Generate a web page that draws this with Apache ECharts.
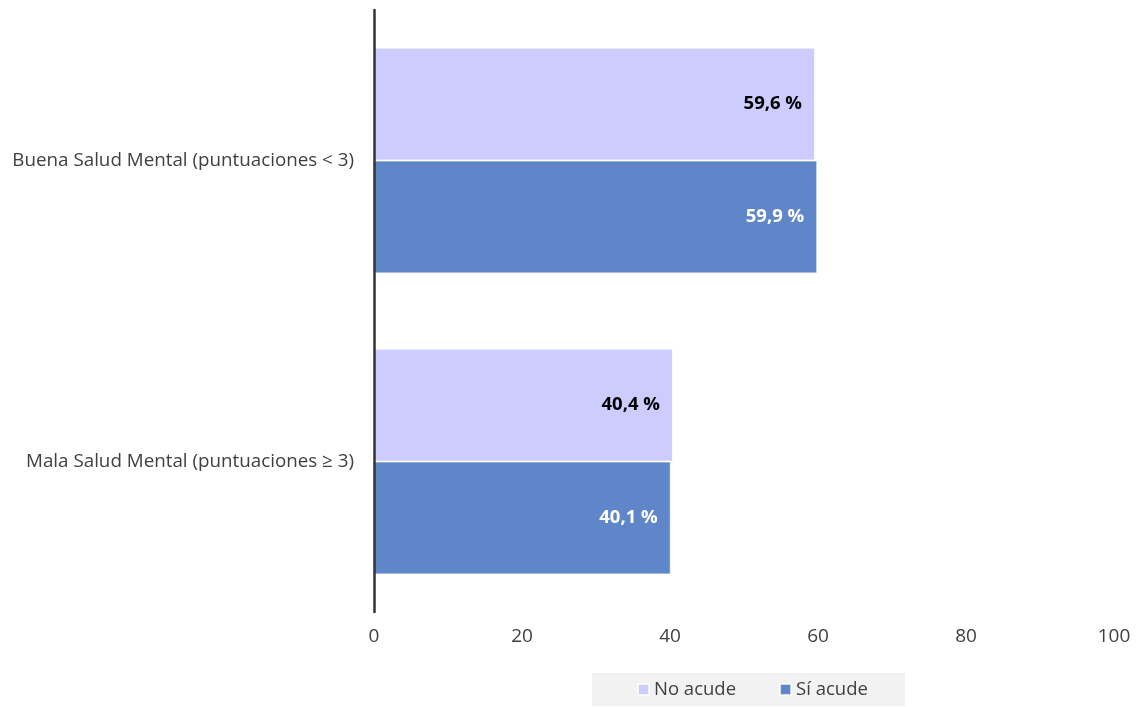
<!DOCTYPE html>
<html><head><meta charset="utf-8">
<script src="https://cdn.jsdelivr.net/npm/echarts@6/dist/echarts.min.js"></script>
<style>html,body{margin:0;padding:0;background:#fff}#c{width:1138px;height:707px}</style>
</head><body><div id="c"></div>
<script>
const categories = ['Buena Salud Mental (puntuaciones < 3)', 'Mala Salud Mental (puntuaciones ≥ 3)'];
const noAcude = [59.6, 40.4];
const siAcude = [59.9, 40.1];
const seriesNames = ['No acude', 'Sí acude'];
const xTicks = [0, 20, 40, 60, 80, 100];

const FONT = 'Open Sans';
const chart = echarts.init(document.getElementById('c'));
const fmt = p => p.value.toFixed(1).replace('.', ',') + ' %';
chart.setOption({
  animation: false,
  textStyle: { fontFamily: FONT },
  grid: { left: 374, right: 24, top: 10, bottom: 95, containLabel: false },
  legend: {
    data: seriesNames,
    left: 592, top: 673,
    backgroundColor: '#f2f2f2',
    padding: [7, 37, 7, 45],
    itemWidth: 11, itemHeight: 11, itemGap: 43,
    icon: 'rect',
    textStyle: { fontFamily: FONT, fontSize: 18.5, color: '#404040' }
  },
  xAxis: {
    type: 'value', min: xTicks[0], max: xTicks[xTicks.length - 1], interval: 20,
    axisLine: { show: false }, axisTick: { show: false }, splitLine: { show: false },
    axisLabel: { fontFamily: FONT, fontSize: 19, color: '#404040', margin: 15 }
  },
  yAxis: {
    type: 'category', data: categories, inverse: true, z: 5,
    axisLine: { show: true, lineStyle: { color: '#333', width: 2.5 } },
    axisTick: { show: false },
    axisLabel: { fontFamily: FONT, fontSize: 18.8, color: '#404040', margin: 20 }
  },
  series: [
    {
      name: seriesNames[0], type: 'bar', data: noAcude, barGap: '0%', barCategoryGap: '25%',
      itemStyle: { color: '#ccccff', borderColor: 'rgba(255,255,255,0.7)', borderWidth: 1 },
      label: { show: true, position: 'insideRight', distance: 13, formatter: fmt,
        fontFamily: FONT, fontSize: 18.5, fontWeight: 'bold', color: '#000' }
    },
    {
      name: seriesNames[1], type: 'bar', data: siAcude, barGap: '0%', barCategoryGap: '25%',
      itemStyle: { color: '#5e86c9', borderColor: 'rgba(255,255,255,0.7)', borderWidth: 1 },
      label: { show: true, position: 'insideRight', distance: 13, formatter: fmt,
        fontFamily: FONT, fontSize: 18.5, fontWeight: 'bold', color: '#fff' }
    }
  ]
});
</script></body></html>
